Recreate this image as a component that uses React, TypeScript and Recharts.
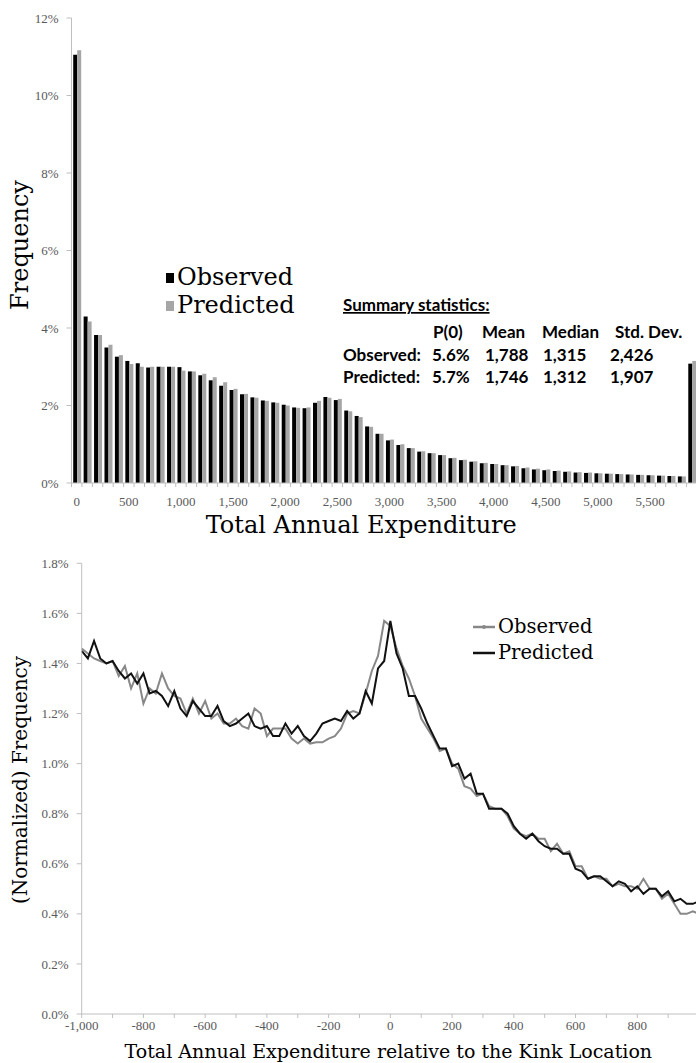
import React from 'react';
import { BarChart, Bar, XAxis, YAxis, LineChart, Line, Legend } from 'recharts';

// ---------- Top chart data (histogram of total annual expenditure) ----------
const binStarts = [0, 100, 200, 300, 400, 500, 600, 700, 800, 900, 1000, 1100, 1200, 1300, 1400, 1500, 1600, 1700, 1800, 1900, 2000, 2100, 2200, 2300, 2400, 2500, 2600, 2700, 2800, 2900, 3000, 3100, 3200, 3300, 3400, 3500, 3600, 3700, 3800, 3900, 4000, 4100, 4200, 4300, 4400, 4500, 4600, 4700, 4800, 4900, 5000, 5100, 5200, 5300, 5400, 5500, 5600, 5700, 5800, 5900];
const observedFreq = [11.05, 4.3, 3.82, 3.5, 3.26, 3.15, 3.09, 2.98, 3.0, 3.0, 2.99, 2.88, 2.78, 2.65, 2.51, 2.4, 2.29, 2.21, 2.13, 2.08, 2.02, 1.95, 1.93, 2.07, 2.22, 2.14, 1.87, 1.73, 1.46, 1.27, 1.1, 0.98, 0.9, 0.81, 0.77, 0.72, 0.64, 0.59, 0.55, 0.51, 0.49, 0.46, 0.43, 0.38, 0.35, 0.33, 0.31, 0.29, 0.27, 0.26, 0.25, 0.24, 0.23, 0.22, 0.21, 0.2, 0.19, 0.18, 0.17, 3.08];
const predictedFreq = [11.17, 4.17, 3.82, 3.57, 3.3, 3.07, 3.0, 3.0, 3.0, 3.0, 2.9, 2.88, 2.82, 2.73, 2.6, 2.43, 2.3, 2.2, 2.12, 2.07, 2.0, 1.94, 1.95, 2.12, 2.2, 2.17, 1.85, 1.7, 1.45, 1.27, 1.12, 1.0, 0.9, 0.82, 0.77, 0.72, 0.65, 0.6, 0.56, 0.52, 0.49, 0.46, 0.44, 0.4, 0.37, 0.35, 0.32, 0.3, 0.28, 0.27, 0.25, 0.24, 0.23, 0.22, 0.21, 0.2, 0.19, 0.18, 0.17, 3.15];
const freqTicks = [0, 2, 4, 6, 8, 10, 12];
const binLabelEvery = 500;

// ---------- Summary statistics ----------
const statTitle = 'Summary statistics:';
const statHeaders = ['P(0)', 'Mean', 'Median', 'Std. Dev.'];
const statObserved = ['5.6%', '1,788', '1,315', '2,426'];
const statPredicted = ['5.7%', '1,746', '1,312', '1,907'];

// ---------- Bottom chart data (normalized frequency around the kink) ----------
const kinkOffsets = [-1000, -980, -960, -940, -920, -900, -880, -860, -840, -820, -800, -780, -760, -740, -720, -700, -680, -660, -640, -620, -600, -580, -560, -540, -520, -500, -480, -460, -440, -420, -400, -380, -360, -340, -320, -300, -280, -260, -240, -220, -200, -180, -160, -140, -120, -100, -80, -60, -40, -20, 0, 20, 40, 60, 80, 100, 120, 140, 160, 180, 200, 220, 240, 260, 280, 300, 320, 340, 360, 380, 400, 420, 440, 460, 480, 500, 520, 540, 560, 580, 600, 620, 640, 660, 680, 700, 720, 740, 760, 780, 800, 820, 840, 860, 880, 900, 920, 940, 960, 980, 1000];
const observedNorm = [1.46, 1.44, 1.42, 1.41, 1.4, 1.41, 1.35, 1.39, 1.3, 1.36, 1.24, 1.3, 1.28, 1.36, 1.3, 1.27, 1.26, 1.2, 1.26, 1.2, 1.25, 1.18, 1.2, 1.16, 1.16, 1.18, 1.15, 1.14, 1.22, 1.2, 1.11, 1.14, 1.14, 1.14, 1.1, 1.08, 1.1, 1.08, 1.085, 1.085, 1.1, 1.11, 1.14, 1.2, 1.21, 1.2, 1.28, 1.37, 1.43, 1.57, 1.55, 1.46, 1.39, 1.34, 1.27, 1.18, 1.14, 1.1, 1.05, 1.06, 1.0, 0.98, 0.91, 0.9, 0.87, 0.88, 0.83, 0.82, 0.82, 0.79, 0.74, 0.72, 0.71, 0.72, 0.7, 0.7, 0.65, 0.68, 0.64, 0.65, 0.59, 0.59, 0.54, 0.55, 0.54, 0.54, 0.51, 0.52, 0.51, 0.51, 0.5, 0.54, 0.5, 0.5, 0.46, 0.48, 0.44, 0.4, 0.4, 0.41, 0.4];
const predictedNorm = [1.45, 1.42, 1.49, 1.42, 1.4, 1.41, 1.37, 1.34, 1.36, 1.32, 1.36, 1.28, 1.29, 1.27, 1.23, 1.29, 1.22, 1.19, 1.25, 1.22, 1.19, 1.19, 1.23, 1.17, 1.15, 1.16, 1.18, 1.2, 1.15, 1.14, 1.15, 1.11, 1.11, 1.16, 1.12, 1.15, 1.11, 1.09, 1.12, 1.16, 1.17, 1.18, 1.17, 1.21, 1.18, 1.2, 1.29, 1.24, 1.38, 1.41, 1.57, 1.44, 1.38, 1.27, 1.27, 1.22, 1.16, 1.11, 1.06, 1.06, 0.99, 1.0, 0.94, 0.96, 0.88, 0.88, 0.82, 0.82, 0.82, 0.8, 0.75, 0.72, 0.7, 0.72, 0.69, 0.67, 0.66, 0.66, 0.64, 0.64, 0.58, 0.57, 0.54, 0.55, 0.55, 0.53, 0.51, 0.53, 0.52, 0.49, 0.51, 0.48, 0.5, 0.5, 0.47, 0.49, 0.45, 0.46, 0.44, 0.44, 0.45];
const normTicks = [0, 0.2, 0.4, 0.6, 0.8, 1.0, 1.2, 1.4, 1.6, 1.8];
const offsetTicks = [-1000, -900, -800, -700, -600, -500, -400, -300, -200, -100, 0, 100, 200, 300, 400, 500, 600, 700, 800, 900, 1000];

const histData = binStarts.map((bin, i) => ({ bin, observed: observedFreq[i], predicted: predictedFreq[i] }));
const kinkData = kinkOffsets.map((x, i) => ({ x, observed: observedNorm[i], predicted: predictedNorm[i] }));

// ---------- styling ----------
const SERIF_TITLE = 'DejaVu Serif';
const SERIF_TICK = 'Liberation Serif';
const AXIS_GRAY = '#bfbfbf';
const TICK_TEXT = '#595959';
const BLACK_BAR = '#000000';
const GRAY_BAR = '#a6a6a6';
const OBS_LINE = '#888888';
const PRED_LINE = '#111111';

const TOP_W = 697;
const TOP_H = 540;
const TOP_Y_AXIS_W = 71.5;
const TOP_BAND = (TOP_W - TOP_Y_AXIS_W) / binStarts.length;

function withCommas(n: number): string {
  const s = String(Math.abs(n)).replace(/\B(?=(\d{3})+(?!\d))/g, ',');
  return n < 0 ? '-' + s : s;
}

function BinTick(props: any) {
  const { x, y, payload, band } = props;
  const axisY = y - 14;
  const v = payload.value as number;
  return (
    <g>
      <line x1={x - band / 2} x2={x - band / 2} y1={axisY} y2={axisY + 4} stroke={AXIS_GRAY} />
      {v % binLabelEvery === 0 ? (
        <text x={x} y={y} dy="0.71em" textAnchor="middle" fill={TICK_TEXT} fontSize={13} fontFamily={SERIF_TICK}>
          {withCommas(v)}
        </text>
      ) : null}
    </g>
  );
}

function XTitle(props: any) {
  const { viewBox, text, dx, bottomGap, size } = props;
  const cx = viewBox.x + viewBox.width / 2 + dx;
  const y = viewBox.y + viewBox.height - bottomGap;
  return (
    <text x={cx} y={y} textAnchor="middle" fontFamily={SERIF_TITLE} fontSize={size} fill="#000">
      {text}
    </text>
  );
}

function YTitle(props: any) {
  const { viewBox, text, baseX, dy, size } = props;
  const cy = viewBox.y + viewBox.height / 2 + dy;
  return (
    <text x={baseX} y={cy} transform={`rotate(-90 ${baseX} ${cy})`} textAnchor="middle" fontFamily={SERIF_TITLE} fontSize={size} fill="#000">
      {text}
    </text>
  );
}

function TopLegend() {
  const items = [
    { name: 'Observed', color: BLACK_BAR },
    { name: 'Predicted', color: GRAY_BAR },
  ];
  return (
    <div>
      {items.map((it) => (
        <div key={it.name} style={{ display: 'flex', height: 28, lineHeight: '28px', fontFamily: SERIF_TITLE, fontSize: 24, color: '#000', whiteSpace: 'nowrap' }}>
          <div style={{ width: 8, height: 10, background: it.color, marginTop: 10, marginRight: 3 }} />
          <span>{it.name}</span>
        </div>
      ))}
    </div>
  );
}

function BottomLegend() {
  const items = [
    { name: 'Observed', color: OBS_LINE, marker: true },
    { name: 'Predicted', color: PRED_LINE, marker: false },
  ];
  return (
    <div>
      {items.map((it) => (
        <div key={it.name} style={{ display: 'flex', alignItems: 'center', height: 25.7, lineHeight: '25.7px', fontFamily: SERIF_TITLE, fontSize: 19.5, color: '#000', whiteSpace: 'nowrap' }}>
          <svg width={24} height={10} style={{ marginRight: 2 }}>
            <line x1={1} x2={23} y1={5} y2={5} stroke={it.color} strokeWidth={2.5} />
            {it.marker ? <circle cx={12} cy={5} r={2} fill={it.color} /> : null}
          </svg>
          <span>{it.name}</span>
        </div>
      ))}
    </div>
  );
}

function StatsBlock() {
  const font = { fontFamily: 'Lato', fontWeight: 700, fontSize: 17, fill: '#000' } as const;
  const labelX = 343;
  const headerX = [433, 482, 542, 615];
  const valueX = [432, 485, 543, 610];
  return (
    <svg width={696} height={400} style={{ position: 'absolute', left: 0, top: 0, pointerEvents: 'none' }}>
      <text x={labelX} y={311} {...font} style={{ textDecoration: 'underline' }}>{statTitle}</text>
      {statHeaders.map((h, i) => (
        <text key={h} x={headerX[i]} y={338} {...font}>{h}</text>
      ))}
      <text x={labelX} y={361} {...font}>Observed:</text>
      {statObserved.map((v, i) => (
        <text key={'o' + i} x={valueX[i]} y={361} {...font}>{v}</text>
      ))}
      <text x={labelX} y={383} {...font}>Predicted:</text>
      {statPredicted.map((v, i) => (
        <text key={'p' + i} x={valueX[i]} y={383} {...font}>{v}</text>
      ))}
    </svg>
  );
}

export default function App() {
  return (
    <div style={{ position: 'absolute', left: 0, top: 0, width: 696, height: 1063, overflow: 'hidden', background: '#fff' }}>
      <div style={{ position: 'absolute', left: 0, top: 0 }}>
        <BarChart width={TOP_W} height={TOP_H} data={histData} margin={{ top: 18, right: 0, bottom: 0, left: 0 }} barCategoryGap="16.4%" barGap={0}>
          <XAxis
            dataKey="bin"
            interval={0}
            tickLine={false}
            tickSize={4}
            tickMargin={10}
            height={57}
            axisLine={{ stroke: AXIS_GRAY }}
            tick={<BinTick band={TOP_BAND} />}
            label={<XTitle text="Total Annual Expenditure" dx={-23} bottomGap={7} size={24} />}
          />
          <YAxis
            width={TOP_Y_AXIS_W}
            domain={[0, 12]}
            ticks={freqTicks}
            tickFormatter={(v: number) => v + '%'}
            tickSize={5}
            tickMargin={8}
            axisLine={{ stroke: AXIS_GRAY }}
            tickLine={{ stroke: AXIS_GRAY }}
            tick={{ fill: TICK_TEXT, fontSize: 13, fontFamily: SERIF_TICK }}
            label={<YTitle text="Frequency" baseX={28} dy={-5.5} size={24} />}
          />
          <Legend layout="vertical" align="center" verticalAlign="middle" content={<TopLegend />} wrapperStyle={{ left: 166, top: 263, width: 140, height: 56 }} />
          <Bar dataKey="observed" name="Observed" fill={BLACK_BAR} isAnimationActive={false} />
          <Bar dataKey="predicted" name="Predicted" fill={GRAY_BAR} isAnimationActive={false} />
        </BarChart>
        <StatsBlock />
      </div>
      <div style={{ position: 'absolute', left: 0, top: 540 }}>
        <LineChart width={699} height={523} data={kinkData} margin={{ top: 23.3, right: 0, bottom: 0, left: 0 }}>
          <XAxis
            dataKey="x"
            type="number"
            domain={[-1000, 1000]}
            ticks={offsetTicks}
            interval={0}
            tickSize={4}
            tickMargin={3}
            height={49}
            axisLine={{ stroke: AXIS_GRAY }}
            tickLine={{ stroke: AXIS_GRAY }}
            tick={{ fill: TICK_TEXT, fontSize: 13, fontFamily: SERIF_TICK }}
            tickFormatter={(v: number) => (v % 200 === 0 && v !== 1000 ? withCommas(v) : '')}
            label={<XTitle text="Total Annual Expenditure relative to the Kink Location" dx={-2} bottomGap={5} size={19} />}
          />
          <YAxis
            width={81.7}
            domain={[0, 1.8]}
            ticks={normTicks}
            tickFormatter={(v: number) => v.toFixed(1) + '%'}
            tickSize={5}
            tickMargin={8}
            axisLine={{ stroke: AXIS_GRAY }}
            tickLine={{ stroke: AXIS_GRAY }}
            tick={{ fill: TICK_TEXT, fontSize: 13, fontFamily: SERIF_TICK }}
            label={<YTitle text="(Normalized) Frequency" baseX={27} dy={-8.7} size={20} />}
          />
          <Legend layout="vertical" align="center" verticalAlign="middle" content={<BottomLegend />} wrapperStyle={{ left: 472, top: 74, width: 140, height: 52 }} />
          <Line type="linear" dataKey="observed" name="Observed" stroke={OBS_LINE} strokeWidth={2} dot={false} isAnimationActive={false} />
          <Line type="linear" dataKey="predicted" name="Predicted" stroke={PRED_LINE} strokeWidth={2} dot={false} isAnimationActive={false} />
        </LineChart>
      </div>
    </div>
  );
}
